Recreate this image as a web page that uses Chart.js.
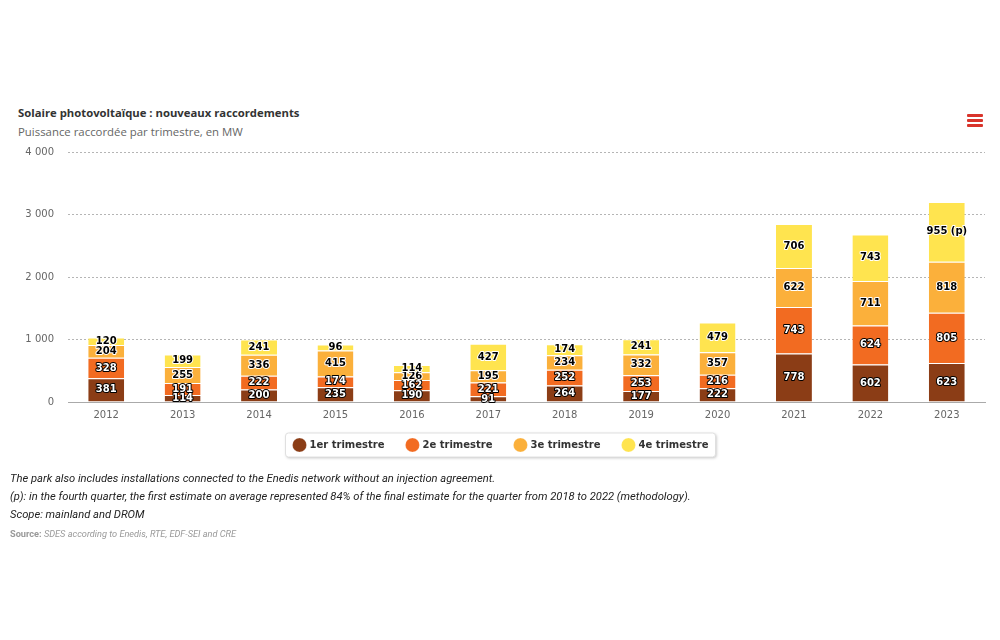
<!DOCTYPE html>
<html>
<head>
<meta charset="utf-8">
<script src="https://cdn.jsdelivr.net/npm/chart.js@4"></script>
<style>
  body { margin: 0; background: #fff; width: 1000px; height: 640px; position: relative; overflow: hidden; }
  .title { position: absolute; left: 18px; top: 105px; font: bold 11.3px "Open Sans", sans-serif; color: #333; }
  .subtitle { position: absolute; left: 18px; top: 124px; font: 11.4px "Open Sans", sans-serif; color: #666; }
  .menu { position: absolute; left: 967px; top: 114px; width: 16px; }
  .menu div { height: 2.5px; background: #d9342b; margin-bottom: 2.5px; border-radius: 1px; }
  #wrap { position: absolute; left: 0; top: 132px; width: 1000px; height: 348px; }
  .note { position: absolute; left: 10px; font: italic 11.2px "Liberation Sans Narrow", "Roboto", sans-serif; color: #222; line-height: 18px; }
  .source { position: absolute; left: 10px; top: 528px; font: 9.2px "Liberation Sans Narrow", "Roboto", sans-serif; color: #999; }
</style>
</head>
<body>
<div class="title">Solaire photovoltaïque : nouveaux raccordements</div>
<div class="subtitle">Puissance raccordée par trimestre, en MW</div>
<div class="menu"><div></div><div></div><div></div></div>
<div id="wrap"><canvas id="myChart"></canvas></div>
<div class="note" style="top:470px">The park also includes installations connected to the Enedis network without an injection agreement.</div>
<div class="note" style="top:488px">(p): in the fourth quarter, the first estimate on average represented 84% of the final estimate for the quarter from 2018 to 2022 (methodology).</div>
<div class="note" style="top:506px">Scope: mainland and DROM</div>
<div class="source"><b>Source:</b> <i>SDES according to Enedis, RTE, EDF-SEI and CRE</i></div>
<script>
// Years and new connections per quarter (MW)
var years = ['2012', '2013', '2014', '2015', '2016', '2017', '2018', '2019', '2020', '2021', '2022', '2023'];
var q1 = [381, 114, 200, 235, 190, 91, 264, 177, 222, 778, 602, 623];
var q2 = [328, 191, 222, 174, 162, 221, 252, 253, 216, 743, 624, 805];
var q3 = [204, 255, 336, 415, 126, 195, 234, 332, 357, 622, 711, 818];
var q4 = [120, 199, 241, 96, 114, 427, 174, 241, 479, 706, 743, 955];
// 2023 Q4 is provisional
var q4Notes = ['', '', '', '', '', '', '', '', '', '', '', ' (p)'];
var seriesNames = ['1er trimestre', '2e trimestre', '3e trimestre', '4e trimestre'];
var seriesColors = ['#8b3d16', '#f26b21', '#fbb03b', '#ffe44f'];
var yTicks = [0, 1000, 2000, 3000, 4000];

function fmt(v) {
    return String(v).replace(/\B(?=(\d{3})+(?!\d))/g, ' ');
}

var seriesData = [q1, q2, q3, q4];
var seriesNotes = [null, null, null, q4Notes];

// Value labels in the middle of each segment
var segmentLabels = {
    id: 'segmentLabels',
    afterDatasetsDraw: function (chart) {
        var ctx = chart.ctx;
        ctx.save();
        ctx.font = 'bold 10px "DejaVu Sans"';
        ctx.textAlign = 'center';
        ctx.textBaseline = 'middle';
        ctx.lineJoin = 'round';
        chart.data.datasets.forEach(function (ds, i) {
            var meta = chart.getDatasetMeta(i);
            var dark = i < 2;
            meta.data.forEach(function (bar, j) {
                var txt = String(ds.data[j]) + (seriesNotes[i] ? seriesNotes[i][j] : '');
                var y = (bar.y + bar.base) / 2;
                ctx.lineWidth = 2;
                ctx.strokeStyle = dark ? '#000' : '#fff';
                ctx.strokeText(txt, bar.x, y);
                ctx.fillStyle = dark ? '#fff' : '#000';
                ctx.fillText(txt, bar.x, y);
            });
        });
        ctx.restore();
    }
};

// Pull the legend a little closer to the axis
var legendLift = {
    id: 'legendLift',
    afterLayout: function (chart) {
        var lg = chart.legend;
        if (!lg) return;
        lg.top -= 11;
        lg.bottom -= 11;
    }
};

// White frame with shadow behind the legend items
var legendFrame = {
    id: 'legendFrame',
    beforeDraw: function (chart) {
        var lg = chart.legend;
        if (!lg || !lg.legendHitBoxes || !lg.legendHitBoxes.length) return;
        var boxes = lg.legendHitBoxes;
        var first = boxes[0], last = boxes[boxes.length - 1];
        var x0 = first.left - 9, x1 = last.left + last.width + 7;
        var cy = first.top + first.height / 2;
        var ctx = chart.ctx;
        ctx.save();
        ctx.shadowColor = 'rgba(0,0,0,0.25)';
        ctx.shadowBlur = 3;
        ctx.shadowOffsetX = 1;
        ctx.shadowOffsetY = 1;
        ctx.fillStyle = '#fff';
        ctx.beginPath();
        ctx.roundRect(x0, cy - 12, x1 - x0, 24, 3);
        ctx.fill();
        ctx.shadowColor = 'transparent';
        ctx.strokeStyle = '#e0e0e0';
        ctx.lineWidth = 1;
        ctx.stroke();
        ctx.restore();
    }
};

var datasets = [];
for (var i = 0; i < 4; i++) {
    datasets.push({
        label: seriesNames[i],
        data: seriesData[i],
        backgroundColor: seriesColors[i],
        borderColor: '#fff',
        borderWidth: { top: 1, left: 0, right: 0, bottom: 0 },
        borderSkipped: 'start',
        categoryPercentage: 1,
        barPercentage: 0.47
    });
}

var myChart = document.getElementById('myChart').getContext('2d');
var chart = new Chart(myChart, {
    type: 'bar',
    data: { labels: years, datasets: datasets },
    options: {
        responsive: true,
        maintainAspectRatio: false,
        animation: false,
        layout: { padding: { left: 18, right: 15, top: 5, bottom: 9 } },
        plugins: {
            tooltip: { enabled: false },
            title: { display: false },
            legend: {
                display: true,
                position: 'bottom',
                onClick: null,
                labels: {
                    usePointStyle: true,
                    pointStyle: 'circle',
                    boxWidth: 10,
                    boxHeight: 10,
                    padding: 23,
                    color: '#333',
                    font: { family: 'DejaVu Sans', size: 10, weight: 'bold' }
                }
            }
        },
        scales: {
            x: {
                stacked: true,
                grid: { display: false, drawTicks: false },
                border: { color: '#aaa', width: 1 },
                ticks: { color: '#666', padding: 7, font: { family: 'DejaVu Sans', size: 10 } }
            },
            y: {
                stacked: true,
                min: 0,
                max: 4000,
                afterBuildTicks: function (scale) {
                    scale.ticks = yTicks.map(function (v) { return { value: v }; });
                },
                afterFit: function (scale) { scale.width = 50; },
                grid: { color: '#b5b5b5', drawTicks: false, lineWidth: 1 },
                border: { display: false, dash: [2, 2] },
                ticks: {
                    color: '#666',
                    padding: 14,
                    font: { family: 'DejaVu Sans', size: 10 },
                    callback: function (v) { return fmt(v); }
                }
            }
        }
    },
    plugins: [legendLift, legendFrame, segmentLabels]
});
</script>
</body>
</html>
